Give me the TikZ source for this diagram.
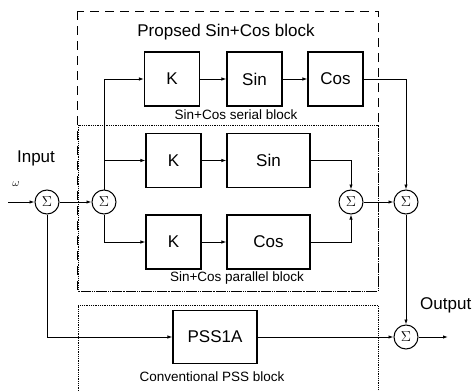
\documentclass[tikz,border=0pt]{standalone}
\usepackage{fontspec}
\setmainfont{Liberation Sans}
\usetikzlibrary{arrows.meta}

\begin{document}
\begin{tikzpicture}[x=1pt, y=-1pt,
            blk/.style={draw, line width=1.1pt, minimum width=55pt, minimum height=54pt, inner sep=0pt, font=\fontsize{17}{20}\selectfont},
            wideblk/.style={blk, minimum width=83pt},
            sum/.style={circle, draw, line width=1pt, minimum size=24pt, inner sep=0pt, font=\fontsize{15}{18}\selectfont},
            arr/.style={line width=0.9pt, -{Latex[length=5pt,width=3.5pt]}},
            lbl/.style={font=\fontsize{17}{20}\selectfont},
            small/.style={font=\fontsize{13.5}{16}\selectfont}
        ]
            \useasboundingbox (0,0) rectangle (472,391);
            % frames
            \draw[dash pattern=on 9pt off 6pt, line width=1pt] (77,11) rectangle (378,291);
            \draw[densely dotted, line width=0.8pt] (78,125) rectangle (378,291);
            \draw[densely dotted, line width=0.8pt] (78,391) |- (378,305) -- (378,391);
            % blocks
            \node[blk] (k1) at (172,79) {K};
            \node[blk] (sin1) at (254.5,79) {Sin};
            \node[blk] (cos1) at (335.5,79) {Cos};
            \node[blk] (k2) at (173.5,160.5) {K};
            \node[wideblk] (sin2) at (268.5,160.5) {Sin};
            \node[blk] (k3) at (173.5,242) {K};
            \node[wideblk] (cos2) at (268.5,242) {Cos};
            \node[blk, minimum width=84pt, minimum height=53pt] (pss) at (215,337) {PSS1A};
            % summing points
            \node[sum] (s1) at (47,202) {$\Sigma$};
            \node[sum] (s2) at (104,202) {$\Sigma$};
            \node[sum] (s3) at (351,202) {$\Sigma$};
            \node[sum] (s4) at (406,202) {$\Sigma$};
            \node[sum] (s5) at (406,337) {$\Sigma$};
            \coordinate (in) at (8,202);
            \coordinate (out) at (448,337);
            % signals
            \draw[arr] (in) -- (s1);
            \draw[arr] (s1) -- (s2);
            \draw[arr] (s1) |- (pss);
            \draw[arr] (s2) |- (k1);
            \draw[arr] (s2 |- k2) -- (k2);
            \draw[arr] (s2) |- (k3);
            \draw[arr] (k1) -- (sin1);
            \draw[arr] (sin1) -- (cos1);
            \draw[arr] (cos1) -| (s4);
            \draw[arr] (k2) -- (sin2);
            \draw[arr] (k3) -- (cos2);
            \draw[arr] (sin2) -| (s3);
            \draw[arr] (cos2) -| (s3);
            \draw[arr] (s3) -- (s4);
            \draw[arr] (s4) -- (s5);
            \draw[arr] (pss) -- (s5);
            \draw[arr] (s5) -- (out);
            % labels
            \node[lbl] (title) at (226,32) {Propsed Sin+Cos block};
            \node[small] (serlbl) at (236,115) {Sin+Cos serial block};
            \node[small] (parlbl) at (237,278) {Sin+Cos parallel block};
            \node[small] (psslbl) at (212,377) {Conventional PSS block};
            \node[lbl] (inlbl) at (36,158) {Input};
            \node[font=\fontsize{11}{13}\selectfont] (omega) at (16,184) {$\omega$};
            \node[lbl, anchor=west, inner sep=0pt] (outlbl) at (420,305) {Output};
        \end{tikzpicture}
\end{document}
